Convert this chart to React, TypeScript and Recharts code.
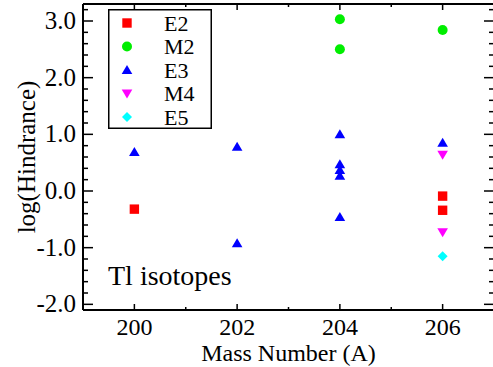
import { Label, Legend, Scatter, ScatterChart, XAxis, YAxis } from 'recharts';

const SERIF = '"Liberation Serif", "Times New Roman", "DejaVu Serif", serif';

// mass number A and log(hindrance) per multipolarity
const e2Mass = [200, 206, 206];
const e2LogH = [-0.32, -0.09, -0.34];
const m2Mass = [204, 204, 206];
const m2LogH = [3.03, 2.5, 2.84];
const e3Mass = [200, 202, 202, 204, 204, 204, 204, 204, 206];
const e3LogH = [0.69, 0.78, -0.92, 1.0, 0.47, 0.37, 0.27, -0.46, 0.85];
const m4Mass = [206, 206];
const m4LogH = [0.64, -0.73];
const e5Mass = [206];
const e5LogH = [-1.15];

const xTicks = [200, 201, 202, 203, 204, 205, 206];
const yTicks = [
  -2.0, -1.8, -1.6, -1.4, -1.2, -1.0, -0.8, -0.6, -0.4, -0.2, 0.0, 0.2, 0.4, 0.6, 0.8, 1.0, 1.2,
  1.4, 1.6, 1.8, 2.0, 2.2, 2.4, 2.6, 2.8, 3.0, 3.2,
];

type Kind = 'square' | 'circle' | 'up' | 'down' | 'diamond';

const toRows = (mass: number[], logH: number[]) => mass.map((a, i) => ({ a, logH: logH[i] }));

const series: { name: string; color: string; kind: Kind; data: { a: number; logH: number }[] }[] = [
  { name: 'E2', color: '#ff0000', kind: 'square', data: toRows(e2Mass, e2LogH) },
  { name: 'M2', color: '#00ee00', kind: 'circle', data: toRows(m2Mass, m2LogH) },
  { name: 'E3', color: '#0000ff', kind: 'up', data: toRows(e3Mass, e3LogH) },
  { name: 'M4', color: '#ff00ff', kind: 'down', data: toRows(m4Mass, m4LogH) },
  { name: 'E5', color: '#00ffff', kind: 'diamond', data: toRows(e5Mass, e5LogH) },
];

const textStyle = { fontFamily: SERIF };

function Marker({ kind, cx, cy, color }: { kind: Kind; cx: number; cy: number; color: string }) {
  if (cx == null || cy == null) return null;
  switch (kind) {
    case 'square':
      return <rect x={cx - 4.7} y={cy - 4.7} width={9.4} height={9.4} fill={color} />;
    case 'circle':
      return <circle cx={cx} cy={cy} r={5} fill={color} />;
    case 'up':
      return <path d={`M${cx},${cy - 5} L${cx + 5.3},${cy + 4} L${cx - 5.3},${cy + 4} Z`} fill={color} />;
    case 'down':
      return <path d={`M${cx},${cy + 5} L${cx + 5.3},${cy - 4} L${cx - 5.3},${cy - 4} Z`} fill={color} />;
    default:
      return <path d={`M${cx},${cy - 5} L${cx + 5},${cy} L${cx},${cy + 5} L${cx - 5},${cy} Z`} fill={color} />;
  }
}

const isMajorY = (v: number) => Math.abs(v - Math.round(v)) < 1e-6;
const isMajorX = (v: number) => v % 2 === 0;

function LeftTick(props: any) {
  const { x, y, payload } = props;
  const major = isMajorY(payload.value);
  return (
    <g>
      <line x1={x} x2={x + (major ? 10 : 5)} y1={y} y2={y} stroke="#000" strokeWidth={1.5} />
      {major && (
        <text x={x - 7} y={y + 8} textAnchor="end" fontSize={25} style={textStyle} fill="#000">
          {payload.value.toFixed(1)}
        </text>
      )}
    </g>
  );
}

function RightTick(props: any) {
  const { x, y, payload } = props;
  const major = isMajorY(payload.value);
  return <line x1={x} x2={x - (major ? 10 : 5)} y1={y} y2={y} stroke="#000" strokeWidth={1.5} />;
}

function BottomTick(props: any) {
  const { x, y, payload } = props;
  const major = isMajorX(payload.value);
  return (
    <g>
      <line x1={x} x2={x} y1={y} y2={y - (major ? 6 : 3)} stroke="#000" strokeWidth={1.5} />
      {major && (
        <text x={x} y={y + 25} textAnchor="middle" fontSize={24} style={textStyle} fill="#000">
          {payload.value}
        </text>
      )}
    </g>
  );
}

function TopTick(props: any) {
  const { x, y, payload } = props;
  const major = isMajorX(payload.value);
  return <line x1={x} x2={x} y1={y} y2={y + (major ? 6 : 3)} stroke="#000" strokeWidth={1.5} />;
}

function LegendBox() {
  const rowY = [14, 37.5, 61, 84.5, 108];
  return (
    <svg width={104} height={120} style={{ display: 'block' }}>
      <rect x={0.75} y={0.75} width={102.5} height={118.5} fill="#fff" stroke="#000" strokeWidth={1.5} />
      {series.map((s, i) => (
        <g key={s.name}>
          <Marker kind={s.kind} cx={19} cy={rowY[i]} color={s.color} />
          <text x={56} y={rowY[i] + 7.5} fontSize={22} style={textStyle} fill="#000">
            {s.name}
          </text>
        </g>
      ))}
    </svg>
  );
}

const axisLine = { stroke: '#000', strokeWidth: 2 };

export default function App() {
  return (
    <div style={{ position: 'absolute', left: 0, top: 0, width: 493, height: 367, overflow: 'hidden', background: '#fff' }}>
      <ScatterChart width={496} height={367} margin={{ top: 0, right: 0, bottom: 0, left: 0 }}>
        <XAxis
          xAxisId="a"
          type="number"
          dataKey="a"
          orientation="bottom"
          domain={[199, 207]}
          allowDataOverflow
          ticks={xTicks}
          interval={0}
          height={57}
          tickSize={0}
          tickMargin={0}
          tickLine={false}
          axisLine={axisLine}
          tick={<BottomTick />}
        >
          <Label
            content={(p: any) => {
              const vb = p.viewBox;
              return (
                <text x={vb.x + vb.width / 2} y={vb.y + 51} textAnchor="middle" fontSize={24} style={textStyle} fill="#000">
                  Mass Number (A)
                </text>
              );
            }}
          />
        </XAxis>
        <XAxis
          xAxisId="top"
          type="number"
          dataKey="a"
          orientation="top"
          domain={[199, 207]}
          allowDataOverflow
          ticks={xTicks}
          interval={0}
          height={4}
          tickSize={0}
          tickMargin={0}
          tickLine={false}
          axisLine={axisLine}
          tick={<TopTick />}
        />
        <YAxis
          yAxisId="l"
          type="number"
          dataKey="logH"
          orientation="left"
          domain={[-2.1, 3.3]}
          allowDataOverflow
          ticks={yTicks}
          interval={0}
          width={83}
          tickSize={0}
          tickMargin={0}
          tickLine={false}
          axisLine={axisLine}
          tick={<LeftTick />}
        >
          <Label
            content={(p: any) => {
              const vb = p.viewBox;
              const cx = vb.x + 35;
              const cy = vb.y + vb.height / 2;
              return (
                <text
                  x={cx}
                  y={cy}
                  transform={`rotate(-90, ${cx}, ${cy})`}
                  textAnchor="middle"
                  fontSize={25}
                  style={textStyle}
                  fill="#000"
                >
                  log(Hindrance)
                </text>
              );
            }}
          />
        </YAxis>
        <YAxis
          yAxisId="r"
          type="number"
          dataKey="logH"
          orientation="right"
          domain={[-2.1, 3.3]}
          allowDataOverflow
          ticks={yTicks}
          interval={0}
          width={2}
          tickSize={0}
          tickMargin={0}
          tickLine={false}
          axisLine={axisLine}
          tick={<RightTick />}
        />
        <Legend
          layout="vertical"
          align="center"
          verticalAlign="middle"
          wrapperStyle={{ left: 108, top: 9, width: 104, height: 120 }}
          content={() => <LegendBox />}
        />
        {series.map((s) => (
          <Scatter
            key={s.name}
            name={s.name}
            data={s.data}
            xAxisId="a"
            yAxisId="l"
            fill={s.color}
            isAnimationActive={false}
            shape={(p: any) => <Marker kind={s.kind} cx={p.cx} cy={p.cy} color={s.color} />}
          />
        ))}
      </ScatterChart>
      <svg width={493} height={367} style={{ position: 'absolute', left: 0, top: 0, pointerEvents: 'none' }}>
        <text x={108} y={285} fontSize={28} style={textStyle} fill="#000">
          Tl isotopes
        </text>
      </svg>
    </div>
  );
}
